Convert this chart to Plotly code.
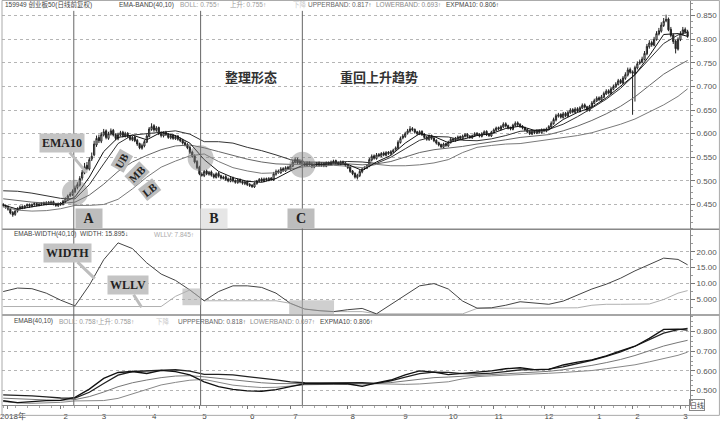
import plotly.graph_objects as go

# ---------------- data ----------------
month_ticks = [2, 24, 40, 61, 82, 102, 120, 144, 166, 186, 205, 226, 247, 263, 283]
month_labels = ["2018年", "2", "3", "4", "5", "6", "7", "8", "9", "10", "11", "12", "1", "2", "3"]

open_ = [
    0.450, 0.448, 0.446, 0.440, 0.433, 0.429, 0.436, 0.441, 0.446, 0.443,
    0.447, 0.450, 0.446, 0.450, 0.452, 0.448, 0.451, 0.454, 0.450, 0.455,
    0.452, 0.456, 0.451, 0.447, 0.453, 0.450, 0.456, 0.461, 0.469, 0.471,
    0.477, 0.486, 0.491, 0.506, 0.517, 0.533, 0.525, 0.546, 0.555, 0.576,
    0.592, 0.584, 0.597, 0.606, 0.590, 0.599, 0.607, 0.598, 0.589, 0.597,
    0.603, 0.595, 0.601, 0.595, 0.587, 0.593, 0.586, 0.579, 0.569, 0.574,
    0.582, 0.594, 0.609, 0.617, 0.607, 0.613, 0.601, 0.595, 0.603, 0.599,
    0.591, 0.597, 0.589, 0.595, 0.589, 0.586, 0.581, 0.577, 0.571, 0.561,
    0.553, 0.541, 0.529, 0.514, 0.511, 0.521, 0.514, 0.519, 0.513, 0.507,
    0.516, 0.511, 0.505, 0.509, 0.504, 0.499, 0.506, 0.501, 0.496, 0.503,
    0.499, 0.494, 0.499, 0.493, 0.491, 0.487, 0.494, 0.499, 0.504, 0.499,
    0.505, 0.501, 0.506, 0.502, 0.514, 0.521, 0.517, 0.526, 0.521, 0.529,
    0.525, 0.531, 0.539, 0.546, 0.537, 0.543, 0.537, 0.532, 0.539, 0.536,
    0.529, 0.533, 0.538, 0.532, 0.537, 0.531, 0.539, 0.534, 0.539, 0.543,
    0.539, 0.535, 0.541, 0.538, 0.534, 0.529, 0.521, 0.516, 0.507, 0.511,
    0.519, 0.526, 0.527, 0.531, 0.544, 0.553, 0.547, 0.556, 0.552, 0.559,
    0.554, 0.561, 0.557, 0.561, 0.566, 0.569, 0.581, 0.591, 0.594, 0.601,
    0.605, 0.611, 0.609, 0.604, 0.599, 0.605, 0.599, 0.593, 0.587, 0.596,
    0.591, 0.586, 0.581, 0.577, 0.571, 0.579, 0.574, 0.581, 0.589, 0.585,
    0.589, 0.594, 0.589, 0.594, 0.599, 0.595, 0.591, 0.595, 0.601, 0.599,
    0.594, 0.599, 0.605, 0.599, 0.595, 0.602, 0.607, 0.613, 0.609, 0.614,
    0.621, 0.617, 0.613, 0.609, 0.617, 0.623, 0.620, 0.616, 0.613, 0.609,
    0.605, 0.599, 0.606, 0.601, 0.607, 0.602, 0.609, 0.605, 0.609, 0.614,
    0.621, 0.629, 0.637, 0.641, 0.634, 0.643, 0.637, 0.644, 0.651, 0.645,
    0.653, 0.647, 0.654, 0.661, 0.657, 0.649, 0.657, 0.664, 0.669, 0.676,
    0.671, 0.677, 0.684, 0.691, 0.685, 0.694, 0.699, 0.704, 0.713, 0.707,
    0.717, 0.724, 0.736, 0.731, 0.726, 0.739, 0.749, 0.751, 0.757, 0.769,
    0.784, 0.793, 0.787, 0.799, 0.811, 0.817, 0.829, 0.839, 0.843, 0.821,
    0.809, 0.796, 0.779, 0.799, 0.811, 0.821, 0.816,
]
high = [
    0.453, 0.450, 0.448, 0.442, 0.436, 0.438, 0.444, 0.448, 0.448, 0.449,
    0.452, 0.452, 0.452, 0.455, 0.455, 0.453, 0.455, 0.456, 0.457, 0.457,
    0.458, 0.458, 0.453, 0.454, 0.455, 0.460, 0.465, 0.471, 0.476, 0.482,
    0.490, 0.497, 0.510, 0.523, 0.538, 0.540, 0.550, 0.560, 0.585, 0.596,
    0.598, 0.603, 0.610, 0.609, 0.604, 0.611, 0.610, 0.601, 0.602, 0.606,
    0.606, 0.604, 0.603, 0.597, 0.595, 0.596, 0.589, 0.581, 0.579, 0.587,
    0.599, 0.614, 0.622, 0.620, 0.616, 0.615, 0.604, 0.605, 0.606, 0.601,
    0.599, 0.599, 0.597, 0.597, 0.592, 0.589, 0.584, 0.580, 0.574, 0.564,
    0.556, 0.544, 0.532, 0.518, 0.523, 0.524, 0.521, 0.522, 0.516, 0.518,
    0.519, 0.513, 0.511, 0.512, 0.507, 0.508, 0.509, 0.503, 0.505, 0.505,
    0.501, 0.500, 0.501, 0.495, 0.493, 0.497, 0.502, 0.506, 0.507, 0.507,
    0.507, 0.508, 0.508, 0.519, 0.524, 0.524, 0.529, 0.529, 0.531, 0.532,
    0.535, 0.544, 0.550, 0.549, 0.546, 0.546, 0.540, 0.541, 0.541, 0.539,
    0.537, 0.540, 0.541, 0.539, 0.539, 0.541, 0.541, 0.543, 0.545, 0.545,
    0.541, 0.543, 0.543, 0.540, 0.536, 0.531, 0.523, 0.518, 0.515, 0.523,
    0.528, 0.531, 0.535, 0.549, 0.556, 0.556, 0.559, 0.559, 0.561, 0.562,
    0.563, 0.563, 0.565, 0.568, 0.573, 0.586, 0.594, 0.599, 0.604, 0.610,
    0.616, 0.614, 0.611, 0.606, 0.607, 0.607, 0.601, 0.595, 0.598, 0.598,
    0.593, 0.588, 0.583, 0.579, 0.581, 0.581, 0.585, 0.591, 0.591, 0.593,
    0.596, 0.596, 0.598, 0.601, 0.601, 0.597, 0.598, 0.603, 0.603, 0.601,
    0.603, 0.607, 0.607, 0.601, 0.606, 0.611, 0.615, 0.615, 0.618, 0.624,
    0.624, 0.619, 0.615, 0.621, 0.626, 0.626, 0.622, 0.618, 0.615, 0.611,
    0.607, 0.608, 0.608, 0.609, 0.609, 0.611, 0.611, 0.613, 0.618, 0.626,
    0.634, 0.642, 0.644, 0.643, 0.646, 0.646, 0.648, 0.654, 0.654, 0.656,
    0.656, 0.658, 0.664, 0.664, 0.659, 0.661, 0.669, 0.674, 0.679, 0.679,
    0.682, 0.689, 0.694, 0.694, 0.699, 0.704, 0.709, 0.716, 0.716, 0.722,
    0.730, 0.740, 0.740, 0.734, 0.744, 0.753, 0.757, 0.763, 0.775, 0.790,
    0.798, 0.797, 0.805, 0.817, 0.824, 0.836, 0.845, 0.852, 0.846, 0.826,
    0.812, 0.799, 0.804, 0.817, 0.826, 0.825, 0.820,
]
low = [
    0.444, 0.441, 0.437, 0.429, 0.424, 0.426, 0.433, 0.439, 0.440, 0.441,
    0.444, 0.443, 0.444, 0.447, 0.446, 0.446, 0.448, 0.448, 0.448, 0.449,
    0.449, 0.448, 0.445, 0.445, 0.447, 0.448, 0.453, 0.458, 0.466, 0.468,
    0.474, 0.482, 0.488, 0.502, 0.514, 0.522, 0.522, 0.542, 0.552, 0.572,
    0.580, 0.580, 0.594, 0.588, 0.587, 0.596, 0.594, 0.586, 0.586, 0.594,
    0.592, 0.592, 0.591, 0.585, 0.584, 0.582, 0.574, 0.567, 0.566, 0.571,
    0.580, 0.592, 0.606, 0.604, 0.604, 0.597, 0.592, 0.592, 0.595, 0.589,
    0.588, 0.587, 0.587, 0.585, 0.582, 0.577, 0.573, 0.567, 0.557, 0.549,
    0.537, 0.525, 0.512, 0.509, 0.508, 0.512, 0.511, 0.509, 0.505, 0.505,
    0.507, 0.503, 0.503, 0.500, 0.497, 0.497, 0.497, 0.494, 0.494, 0.495,
    0.492, 0.491, 0.489, 0.487, 0.485, 0.485, 0.492, 0.497, 0.497, 0.497,
    0.499, 0.499, 0.500, 0.500, 0.511, 0.515, 0.515, 0.519, 0.519, 0.523,
    0.522, 0.529, 0.537, 0.535, 0.534, 0.533, 0.530, 0.530, 0.532, 0.527,
    0.527, 0.531, 0.530, 0.530, 0.529, 0.529, 0.532, 0.532, 0.537, 0.535,
    0.533, 0.533, 0.535, 0.530, 0.525, 0.517, 0.512, 0.505, 0.503, 0.508,
    0.516, 0.523, 0.525, 0.529, 0.541, 0.545, 0.545, 0.550, 0.550, 0.552,
    0.552, 0.555, 0.555, 0.559, 0.564, 0.567, 0.579, 0.588, 0.591, 0.598,
    0.602, 0.605, 0.600, 0.597, 0.597, 0.595, 0.589, 0.585, 0.585, 0.587,
    0.582, 0.577, 0.573, 0.569, 0.569, 0.572, 0.572, 0.579, 0.583, 0.583,
    0.587, 0.587, 0.587, 0.592, 0.591, 0.589, 0.589, 0.593, 0.595, 0.592,
    0.592, 0.597, 0.595, 0.593, 0.593, 0.600, 0.605, 0.607, 0.607, 0.612,
    0.613, 0.609, 0.607, 0.607, 0.615, 0.616, 0.612, 0.609, 0.605, 0.601,
    0.597, 0.597, 0.599, 0.599, 0.600, 0.600, 0.603, 0.603, 0.607, 0.612,
    0.619, 0.626, 0.634, 0.632, 0.632, 0.635, 0.635, 0.642, 0.643, 0.643,
    0.645, 0.645, 0.652, 0.653, 0.647, 0.647, 0.655, 0.662, 0.667, 0.669,
    0.668, 0.675, 0.682, 0.683, 0.683, 0.692, 0.697, 0.702, 0.705, 0.705,
    0.714, 0.721, 0.727, 0.640, 0.668, 0.736, 0.746, 0.749, 0.755, 0.766,
    0.780, 0.784, 0.785, 0.797, 0.808, 0.814, 0.826, 0.836, 0.817, 0.804,
    0.790, 0.770, 0.776, 0.796, 0.808, 0.812, 0.803,
]
close = [
    0.448, 0.445, 0.440, 0.432, 0.428, 0.436, 0.442, 0.445, 0.443, 0.447,
    0.449, 0.446, 0.450, 0.452, 0.448, 0.451, 0.453, 0.450, 0.454, 0.452,
    0.455, 0.451, 0.448, 0.452, 0.450, 0.457, 0.462, 0.468, 0.472, 0.478,
    0.485, 0.492, 0.505, 0.518, 0.530, 0.526, 0.545, 0.552, 0.578, 0.590,
    0.585, 0.598, 0.604, 0.592, 0.600, 0.606, 0.597, 0.590, 0.598, 0.602,
    0.596, 0.600, 0.594, 0.588, 0.592, 0.585, 0.578, 0.570, 0.575, 0.583,
    0.595, 0.610, 0.615, 0.608, 0.612, 0.600, 0.596, 0.602, 0.598, 0.592,
    0.596, 0.590, 0.594, 0.588, 0.585, 0.580, 0.576, 0.570, 0.560, 0.552,
    0.540, 0.528, 0.515, 0.512, 0.520, 0.515, 0.518, 0.512, 0.508, 0.515,
    0.510, 0.506, 0.508, 0.503, 0.500, 0.505, 0.500, 0.497, 0.502, 0.498,
    0.495, 0.498, 0.492, 0.490, 0.488, 0.495, 0.500, 0.503, 0.500, 0.504,
    0.502, 0.505, 0.503, 0.515, 0.520, 0.518, 0.525, 0.522, 0.528, 0.526,
    0.532, 0.540, 0.545, 0.538, 0.542, 0.536, 0.533, 0.538, 0.535, 0.530,
    0.534, 0.537, 0.533, 0.536, 0.532, 0.538, 0.535, 0.540, 0.542, 0.538,
    0.536, 0.540, 0.537, 0.533, 0.528, 0.520, 0.515, 0.508, 0.512, 0.520,
    0.525, 0.528, 0.532, 0.545, 0.552, 0.548, 0.555, 0.553, 0.558, 0.555,
    0.560, 0.558, 0.562, 0.565, 0.570, 0.582, 0.590, 0.595, 0.600, 0.606,
    0.610, 0.608, 0.603, 0.600, 0.604, 0.598, 0.592, 0.588, 0.595, 0.590,
    0.585, 0.580, 0.576, 0.572, 0.578, 0.575, 0.582, 0.588, 0.586, 0.590,
    0.593, 0.590, 0.595, 0.598, 0.594, 0.592, 0.596, 0.600, 0.598, 0.595,
    0.600, 0.604, 0.598, 0.596, 0.603, 0.608, 0.612, 0.610, 0.615, 0.620,
    0.616, 0.612, 0.610, 0.618, 0.622, 0.619, 0.615, 0.612, 0.608, 0.604,
    0.600, 0.605, 0.602, 0.606, 0.603, 0.608, 0.606, 0.610, 0.615, 0.622,
    0.630, 0.638, 0.640, 0.635, 0.642, 0.638, 0.645, 0.650, 0.646, 0.652,
    0.648, 0.655, 0.660, 0.656, 0.650, 0.658, 0.665, 0.670, 0.675, 0.672,
    0.678, 0.685, 0.690, 0.686, 0.695, 0.700, 0.705, 0.712, 0.708, 0.718,
    0.725, 0.735, 0.730, 0.728, 0.740, 0.748, 0.752, 0.758, 0.770, 0.785,
    0.792, 0.788, 0.800, 0.812, 0.818, 0.830, 0.838, 0.842, 0.820, 0.808,
    0.795, 0.780, 0.800, 0.812, 0.820, 0.815, 0.806,
]
bar_idx = list(range(len(close)))

# indicator lines, read at every 6th bar
line_idx = [0, 6, 12, 18, 24, 30, 36, 42, 48, 54, 60, 66, 72, 78, 84, 90, 96, 102,
            108, 114, 120, 126, 132, 138, 144, 150, 156, 162, 168, 174, 180, 186,
            192, 198, 204, 210, 216, 222, 228, 234, 240, 246, 252, 258, 264, 270,
            276, 282, 286]
ema10 = [0.449, 0.440, 0.445, 0.450, 0.451, 0.466, 0.508, 0.562, 0.592, 0.597,
         0.587, 0.603, 0.596, 0.580, 0.545, 0.520, 0.507, 0.499, 0.497, 0.505,
         0.521, 0.535, 0.535, 0.536, 0.535, 0.522, 0.540, 0.554, 0.580, 0.600,
         0.594, 0.581, 0.588, 0.596, 0.600, 0.611, 0.616, 0.607, 0.608, 0.630,
         0.645, 0.656, 0.676, 0.701, 0.725, 0.765, 0.810, 0.812, 0.806]
mb = [0.462, 0.458, 0.455, 0.453, 0.452, 0.455, 0.470, 0.493, 0.520, 0.540,
      0.554, 0.566, 0.574, 0.576, 0.570, 0.562, 0.554, 0.546, 0.540, 0.536,
      0.535, 0.535, 0.535, 0.536, 0.536, 0.534, 0.536, 0.541, 0.550, 0.560,
      0.566, 0.569, 0.573, 0.578, 0.582, 0.587, 0.592, 0.595, 0.598, 0.606,
      0.616, 0.628, 0.642, 0.658, 0.678, 0.702, 0.726, 0.744, 0.755]
ub = [0.479, 0.478, 0.474, 0.469, 0.463, 0.462, 0.492, 0.536, 0.579, 0.597,
      0.600, 0.603, 0.606, 0.599, 0.583, 0.583, 0.580, 0.571, 0.564, 0.555,
      0.545, 0.540, 0.539, 0.539, 0.541, 0.540, 0.537, 0.550, 0.568, 0.586,
      0.594, 0.593, 0.586, 0.585, 0.589, 0.596, 0.605, 0.607, 0.609, 0.620,
      0.636, 0.654, 0.673, 0.696, 0.725, 0.758, 0.791, 0.809, 0.815]
lb = [0.445, 0.438, 0.436, 0.437, 0.441, 0.448, 0.448, 0.450, 0.461, 0.483,
      0.508, 0.529, 0.542, 0.553, 0.557, 0.541, 0.528, 0.521, 0.516, 0.517,
      0.525, 0.530, 0.531, 0.533, 0.531, 0.528, 0.535, 0.532, 0.532, 0.534,
      0.538, 0.545, 0.560, 0.571, 0.575, 0.578, 0.579, 0.583, 0.588, 0.592,
      0.596, 0.602, 0.611, 0.620, 0.631, 0.646, 0.661, 0.679, 0.695]
width = [7.5, 8.6, 8.4, 7.0, 4.8, 3.0, 9.5, 17.5, 22.8, 21.0,
         16.5, 13.0, 11.0, 8.0, 4.6, 7.5, 9.3, 9.3, 8.8, 7.0,
         3.8, 2.0, 1.5, 1.2, 1.8, 2.2, 0.5, 3.5, 6.5, 9.3,
         10.0, 8.3, 4.5, 2.3, 2.4, 3.2, 4.3, 4.0, 3.5, 4.5,
         6.5, 8.3, 9.8, 11.7, 14.0, 16.0, 18.0, 17.6, 15.9]
wllv = [2.8, 2.8, 2.8, 2.8, 2.8, 2.8, 2.8, 2.8, 2.8, 2.8,
        2.8, 2.8, 6.0, 8.0, 4.6, 4.6, 4.6, 4.6, 4.6, 4.6,
        3.8, 2.0, 1.5, 1.2, 1.2, 1.2, 0.5, 0.5, 0.5, 0.5,
        0.5, 0.5, 0.5, 2.2, 2.2, 2.2, 2.2, 2.2, 2.2, 2.2,
        2.4, 3.2, 3.5, 3.5, 3.5, 3.6, 5.0, 7.0, 7.8]

price_ticks = [0.45, 0.50, 0.55, 0.60, 0.65, 0.70, 0.75, 0.80, 0.85]
width_ticks = [5, 10, 15, 20]
width_tick_text = ["5.000", "10.00", "15.00", "20.00"]
low_ticks = [0.5, 0.6, 0.7, 0.8]

marks = [("A", 29.5), ("B", 82.5), ("C", 125)]

# ---------------- layout helpers ----------------
PW, PH = 690, 410          # plot area in pixels


def px(x):
    return x / PW


def py(y):
    return (PH - y) / PH


FONT = "Liberation Sans, Noto Sans CJK SC, sans-serif"
CJK = "Noto Sans CJK SC, sans-serif"
SERIF = "Liberation Serif, DejaVu Serif, serif"

fig = go.Figure()

# top panel lines + candles
for vals, col, w in [(lb, "#7a7a7a", 1), (mb, "#666666", 1), (ub, "#333333", 1), (ema10, "#111111", 1)]:
    fig.add_trace(go.Scatter(x=line_idx, y=vals, mode="lines", line=dict(color=col, width=w),
                             xaxis="x", yaxis="y", hoverinfo="skip", showlegend=False))
fig.add_trace(go.Candlestick(
    x=bar_idx, open=open_, high=high, low=low, close=close,
    increasing=dict(line=dict(color="#222222", width=1), fillcolor="#ffffff"),
    decreasing=dict(line=dict(color="#222222", width=1), fillcolor="#222222"),
    whiskerwidth=0, xaxis="x", yaxis="y", showlegend=False))

# middle panel
fig.add_trace(go.Scatter(x=line_idx, y=wllv, mode="lines", line=dict(color="#b0b0b0", width=1),
                         xaxis="x", yaxis="y2", showlegend=False))
fig.add_trace(go.Scatter(x=line_idx, y=width, mode="lines", line=dict(color="#444444", width=1),
                         xaxis="x", yaxis="y2", showlegend=False))

# bottom panel
for vals, col, w in [(lb, "#888888", 1), (mb, "#777777", 1), (ub, "#222222", 1.3), (ema10, "#111111", 1.3)]:
    fig.add_trace(go.Scatter(x=line_idx, y=vals, mode="lines", line=dict(color=col, width=w),
                             xaxis="x", yaxis="y3", showlegend=False))

top_dom = [py(232), 1]
mid_dom = [py(319), py(232)]
bot_dom = [0, py(319)]

yax_common = dict(side="right", anchor="x", showgrid=True, gridcolor="#b5b5b5", griddash="dot",
                  ticks="outside", ticklen=4, tickcolor="#777", zeroline=False,
                  tickfont=dict(size=8, color="#555", family=FONT),
                  showline=True, linecolor="#888", linewidth=1)

fig.update_layout(
    width=720, height=421,
    margin=dict(l=0, r=30, t=0, b=11),
    paper_bgcolor="white", plot_bgcolor="white",
    showlegend=False,
    xaxis=dict(domain=[0, 1], range=[-0.5, 287], anchor="y3",
               rangeslider=dict(visible=False),
               tickvals=month_ticks, ticktext=month_labels,
               ticks="outside", ticklen=3, tickcolor="#777",
               tickfont=dict(size=8, color="#444", family=FONT),
               ticklabelshift=5, ticklabelstandoff=0, ticklabeloverflow="allow",
               showgrid=False, zeroline=False, showline=True, linecolor="#888",
               minor=dict(ticks="outside", ticklen=2, dtick=5, tick0=0, tickcolor="#aaa", showgrid=False)),
    yaxis=dict(domain=top_dom, range=[0.3977, 0.8831], tickvals=price_ticks, tickformat=".3f",
               minor=dict(ticks="outside", ticklen=2, dtick=0.0125, tick0=0.45, tickcolor="#999", showgrid=False),
               **yax_common),
    yaxis2=dict(domain=mid_dom, range=[0.1, 27.1], tickvals=width_ticks, ticktext=width_tick_text,
                minor=dict(ticks="outside", ticklen=2, dtick=2.5, tick0=0, tickcolor="#999", showgrid=False),
                **yax_common),
    yaxis3=dict(domain=bot_dom, range=[0.4275, 0.8825], tickvals=low_ticks, tickformat=".3f",
                minor=dict(ticks="outside", ticklen=2, dtick=0.025, tick0=0.5, tickcolor="#999", showgrid=False),
                **yax_common),
)

shapes = []
# panel separators and frame
for yy in (232, 319):
    shapes.append(dict(type="line", xref="paper", yref="paper", x0=0, x1=720 / PW,
                       y0=py(yy), y1=py(yy), line=dict(color="#888", width=1.5)))
shapes.append(dict(type="rect", xref="paper", yref="paper", x0=0, x1=719.5 / PW,
                   y0=py(420.5), y1=py(0.5), line=dict(color="#aaa", width=1)))
# A/B/C vertical lines
for _, xi in marks:
    shapes.append(dict(type="line", xref="x", yref="paper", x0=xi, x1=xi, y0=0, y1=py(11),
                       line=dict(color="#666", width=1)))
# gray highlight circles
for xi, yv in [(30, 0.475), (82.5, 0.548), (125, 0.534)]:
    shapes.append(dict(type="circle", xref="x", yref="y", xsizemode="pixel", ysizemode="pixel",
                       xanchor=xi, yanchor=yv, x0=-13, x1=13, y0=-13, y1=13,
                       fillcolor="rgba(130,130,130,0.45)", line=dict(width=0), layer="above"))
# gray boxes in width panel
for (x0, y0, x1, y1) in [(181, 292, 200, 309), (288, 304, 333, 319)]:
    shapes.append(dict(type="rect", xref="paper", yref="paper", x0=px(x0), x1=px(x1),
                       y0=py(y1), y1=py(y0), fillcolor="rgba(175,175,175,0.6)",
                       line=dict(width=0), layer="above"))
fig.update_layout(shapes=shapes)

ann = []


def txt(x, y, s, color="#444", size=6.5, family=FONT, anchor="left"):
    ann.append(dict(xref="paper", yref="paper", x=px(x), y=py(y), text=s, showarrow=False,
                    xanchor=anchor, yanchor="middle", font=dict(size=size, color=color, family=family)))


# header rows
txt(1, 5, "159949 创业板50(日线前复权)", "#444")
txt(115, 5, "EMA-BAND(40,10)", "#444")
txt(177, 5, "BOLL: 0.755↑", "#999")
txt(227, 5, "上升: 0.755↑", "#999")
txt(290, 5, "下降", "#ccc")
txt(305, 5, "UPPERBAND: 0.817↑", "#666")
txt(373, 5, "LOWERBAND: 0.693↑", "#888")
txt(443, 5, "EXPMA10: 0.806↑", "#444")

txt(10, 237, "EMAB-WIDTH(40,10)  WIDTH: 15.895↓", "#444")
txt(150, 237, "WLLV: 7.845↑", "#aaa")

txt(10, 325, "EMAB(40,10)", "#444")
txt(55, 325, "BOLL: 0.758↑", "#999")
txt(94, 325, "上升: 0.758↑", "#999")
txt(152, 325, "下降", "#ccc")
txt(175, 325, "UPPPERBAND: 0.818↑", "#666")
txt(247, 325, "LOWERBAND: 0.697↑", "#888")
txt(317, 325, "EXPMA10: 0.806↑", "#444")

# big chinese captions
txt(250, 77, "<b>整理形态</b>", "#333", 13, CJK, "center")
txt(378, 77, "<b>重回上升趋势</b>", "#333", 13, CJK, "center")

# A / B / C boxes
for (lab, _), cx, bg in zip(marks, (73, 199, 300), ("#bdbdbd", "#e6e6e6", "#bdbdbd")):
    ann.append(dict(xref="paper", yref="paper", x=px(cx), y=py(221), text="<b>%s</b>" % lab,
                    showarrow=False, bgcolor=bg, width=24, height=17,
                    font=dict(size=14, color="#222", family=SERIF)))

# callouts with tails
for label, tip, box in [("EMA10", (85, 175), (60, 145)),
                        ("WIDTH", (93, 282), (66, 256)),
                        ("WLLV", (140, 311), (126, 289))]:
    ann.append(dict(xref="paper", yref="paper", x=px(tip[0]), y=py(tip[1]),
                    ax=box[0] - tip[0], ay=box[1] - tip[1], axref="pixel", ayref="pixel",
                    text="<b>%s</b>" % label, showarrow=True, arrowhead=0, arrowwidth=3,
                    arrowcolor="#bdbdbd", bgcolor="#c4c4c4", borderpad=2,
                    font=dict(size=12, color="#222", family=SERIF)))

# rotated band labels
for label, (cx, cy), ang in [("UB", (108, 163), -60), ("MB", (122, 176), -45), ("LB", (135, 192), -38)]:
    ann.append(dict(xref="paper", yref="paper", x=px(cx), y=py(cy), text="<b>%s</b>" % label,
                    showarrow=False, textangle=ang, bgcolor="#bcbcbc", borderpad=1,
                    font=dict(size=11, color="#222", family=SERIF)))

# 日线 box
ann.append(dict(xref="paper", yref="paper", x=px(705.5), y=py(416), text="日线", showarrow=False,
                bordercolor="#888", borderwidth=1, borderpad=0,
                font=dict(size=7, color="#444", family=CJK)))

fig.update_layout(annotations=ann)

fig.write_html("out.html")
